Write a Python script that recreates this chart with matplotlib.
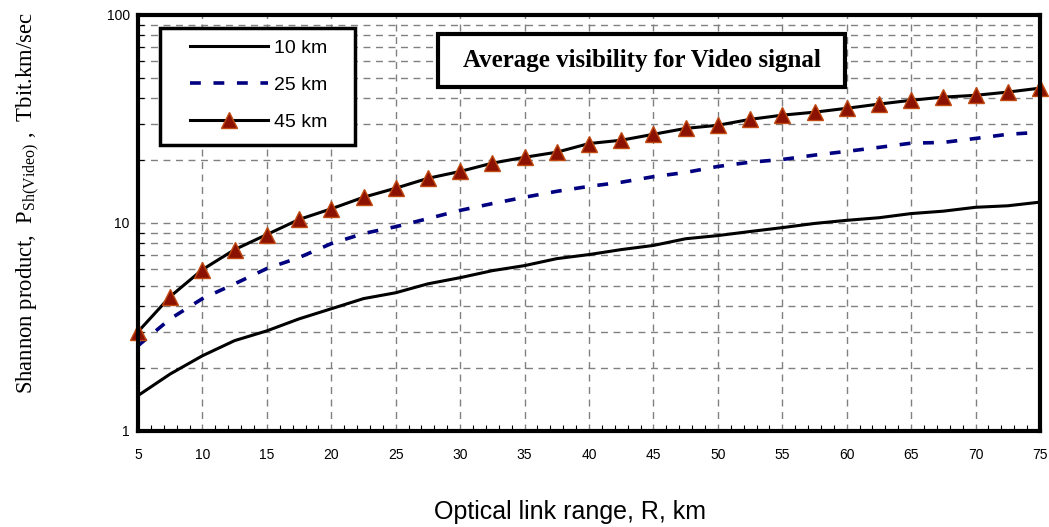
import numpy as np
import matplotlib
matplotlib.use('Agg')
import matplotlib.pyplot as plt
from matplotlib.patches import Rectangle

plt.rcParams['mathtext.fontset'] = 'custom'
plt.rcParams['mathtext.rm'] = 'Liberation Serif'
plt.rcParams['font.family'] = 'Liberation Sans'

# optical link range, km
R = [5, 7.5, 10, 12.5, 15, 17.5, 20, 22.5, 25, 27.5, 30, 32.5, 35, 37.5, 40,
     42.5, 45, 47.5, 50, 52.5, 55, 57.5, 60, 62.5, 65, 67.5, 70, 72.5, 75]

# Shannon product for each visibility
p_10km = [1.48, 1.88, 2.3, 2.72, 3.03, 3.46, 3.87, 4.33, 4.62, 5.1, 5.46, 5.9,
          6.24, 6.74, 7.05, 7.45, 7.8, 8.4, 8.7, 9.1, 9.5, 9.95, 10.3, 10.6,
          11.1, 11.4, 11.9, 12.1, 12.6]
p_25km = [2.57, 3.46, 4.33, 5.1, 6.04, 6.82, 7.96, 8.9, 9.6, 10.5, 11.5, 12.4,
          13.3, 14.2, 15.0, 15.7, 16.7, 17.5, 18.7, 19.6, 20.2, 21.2, 22.1,
          23.1, 24.2, 24.4, 25.5, 26.7, 27.3]
p_45km = [3.0, 4.43, 5.97, 7.45, 8.8, 10.4, 11.7, 13.3, 14.7, 16.4, 17.7, 19.4,
          20.7, 21.9, 24.1, 25.0, 26.7, 28.5, 29.5, 31.5, 33.0, 34.1, 35.6,
          37.3, 38.9, 40.3, 41.1, 42.6, 44.5]

fig = plt.figure(figsize=(10.49, 5.27), dpi=100)
ax = fig.add_axes([138/1049, 1 - 431/527, 902/1049, 416/527])

ax.plot(R, p_10km, color='black', lw=2.2, label='10 km')
ax.plot(R, p_25km, color='#000080', lw=2.6, ls=(0, (3, 3.5)), label='25 km')
ax.plot(R, p_45km, color='black', lw=2.2, marker='^', ms=12,
        mfc='#8B1200', mec='#C04A10', mew=1.0, label='45 km', clip_on=False)

ax.set_yscale('log')
ax.set_ylim(1, 100)
ax.set_xlim(5, 75)
ax.set_xticks(np.arange(5, 76, 5))
ax.set_xticks(np.arange(5, 76, 1), minor=True)
ax.set_yticks([1, 10, 100])
ax.set_yticklabels(['1', '10', '100'])
ax.yaxis.set_minor_formatter(matplotlib.ticker.NullFormatter())

ax.grid(True, which='major', axis='x', color='#808080', ls=(0, (5, 4)), lw=1.0)
ax.grid(True, which='both', axis='y', color='#808080', ls=(0, (5, 4)), lw=1.0)
ax.tick_params(which='both', direction='in', labelsize=10)
ax.tick_params(which='major', length=0)
ax.tick_params(which='minor', length=4, width=0.8)
ax.tick_params(axis='x', pad=12)
ax.tick_params(axis='y', pad=6)
for s in ax.spines.values():
    s.set_linewidth(3)

ax.set_xlabel('Optical link range, R, km', fontsize=18)
ax.xaxis.set_label_coords((570 - 138) / 902, -0.165)
ax.set_ylabel(r'Shannon product,  P$_{\mathrm{Sh(Video)}}$ ,  Tbit.km/sec',
              fontsize=16.3, family='Liberation Serif')
ax.yaxis.set_label_coords(-0.106, 0.548)

# legend with its own frame
ax.add_patch(Rectangle((22 / 902, (431 - 145) / 416), 195 / 902, 117 / 416,
                       transform=ax.transAxes, fc='white', ec='black', lw=2.5,
                       zorder=4))
leg = ax.legend(loc='upper left', bbox_to_anchor=(52 / 902, (431 - 39) / 416),
                fontsize=14, handlelength=4.0, handletextpad=0.3,
                labelspacing=1.0, borderpad=0, borderaxespad=0, frameon=False)
leg.set_zorder(5)

# caption box
ax.add_patch(Rectangle((300 / 902, (431 - 87) / 416), 407 / 902, 53 / 416,
                       transform=ax.transAxes, fc='white', ec='black', lw=3,
                       zorder=4))
ax.text((642 - 138) / 902, (431 - 60) / 416, 'Average visibility for Video signal',
        transform=ax.transAxes, ha='center', va='center', fontsize=18,
        fontweight='bold', family='Liberation Serif', zorder=5)

fig.savefig('out.png', dpi=100)
